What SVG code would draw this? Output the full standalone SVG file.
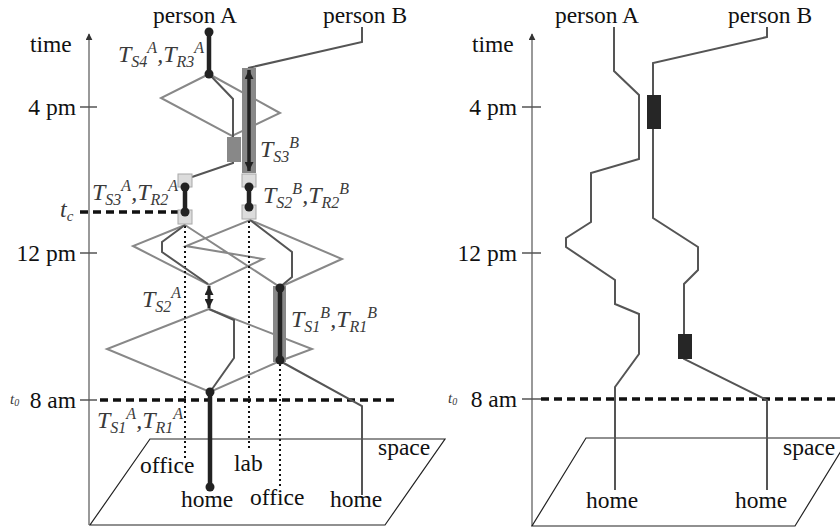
<svg xmlns="http://www.w3.org/2000/svg" width="840" height="529" viewBox="0 0 840 529" font-family="'Liberation Serif', Tinos, 'Nimbus Roman', 'Nimbus Roman No9 L', FreeSerif, 'Noto Serif', 'DejaVu Serif', 'Times New Roman', Times, serif">
<defs>
<style>
text, tspan{font-family:"Liberation Serif",Tinos,"Nimbus Roman","Nimbus Roman No9 L",FreeSerif,"Noto Serif","DejaVu Serif","Times New Roman",Times,serif;}
.lbl{font-size:23.5px;fill:#111;}
.T{font-size:24px;font-style:italic;fill:#3a3a3a;}
.s{font-size:16px;}
.ax{stroke:#777;stroke-width:1.5;fill:none;}
.tick{stroke:#555;stroke-width:1.5;}
.prism{stroke:#888;stroke-width:2;fill:none;stroke-linejoin:miter;}
.traj{stroke:#555;stroke-width:2;fill:none;}
.thick{stroke:#222;stroke-width:4.5;fill:none;}
.dash{stroke:#111;stroke-width:3.5;stroke-dasharray:8 5;fill:none;}
.dot{stroke:#111;stroke-width:2;stroke-dasharray:2 3;fill:none;}
.bar{fill:#888;}
.sq{fill:#dcdcdc;stroke:#a8a8a8;stroke-width:1;}
.pt{fill:#222;}
.plane{fill:none;stroke:#222;stroke-width:1.2;}
.blk{fill:#262626;}
</style>
<marker id="ah" viewBox="0 0 10 10" refX="10" refY="5" markerWidth="9" markerHeight="9" orient="auto-start-reverse" markerUnits="userSpaceOnUse">
<path d="M0,0 L10,5 L0,10 z" fill="#222"/>
</marker>
<marker id="axh" viewBox="0 0 10 10" refX="9" refY="5" markerWidth="7" markerHeight="7" orient="auto" markerUnits="userSpaceOnUse">
<path d="M0,0 L10,5 L0,10 z" fill="#333"/>
</marker>
</defs>

<!-- LEFT PANEL -->
<g id="left-axes">
<line class="ax" x1="89" y1="525" x2="89" y2="34" marker-end="url(#axh)"/>
<polygon class="plane" points="150,439 445,439 385,525 90,525"/>
<line class="tick" x1="80" y1="107" x2="97" y2="107"/>
<line class="tick" x1="80" y1="253" x2="97" y2="253"/>
<line class="tick" x1="80" y1="400" x2="97" y2="400"/>
<text class="lbl" x="30" y="52">time</text>
<text class="lbl" x="76" y="115" text-anchor="end">4 pm</text>
<text class="lbl" x="76" y="261" text-anchor="end">12 pm</text>
<text class="lbl" x="76" y="408" text-anchor="end">8 am</text>
<text class="T" x="10" y="404" style="font-size:15px">t<tspan style="font-size:10px" dy="2">0</tspan></text>
<text class="T" x="60" y="217">t<tspan class="s" dy="4" style="font-size:15px">c</tspan></text>
<text class="lbl" x="378" y="455">space</text>
<text class="lbl" x="140" y="473">office</text>
<text class="lbl" x="234" y="471">lab</text>
<text class="lbl" x="181" y="507">home</text>
<text class="lbl" x="250" y="505">office</text>
<text class="lbl" x="330" y="507">home</text>
<text class="lbl" x="195" y="23" text-anchor="middle">person A</text>
<text class="lbl" x="365" y="23" text-anchor="middle">person B</text>
</g>

<g id="left-prisms">
<polygon class="prism" points="209,74 161,98 232,136 280,113"/>
<polygon class="prism" points="185,225 133,246 209,285 263,259 186,246 250,220 342,259 280,287"/>
<polygon class="prism" points="209,309 107,349 210,392 280,361 312,349"/>
</g>

<g id="left-connectors">
<line class="dash" x1="100" y1="400" x2="398" y2="400"/>
<line class="dash" x1="80" y1="212" x2="183" y2="212"/>
<line class="dot" x1="185" y1="226" x2="185" y2="458"/>
<line class="dot" x1="249" y1="221" x2="249" y2="449"/>
<line class="dot" x1="280" y1="364" x2="280" y2="488"/>
<polyline class="traj" points="209,74 233,99 233,163 192,177"/>
<polyline class="traj" points="362,27 362,42 248,68"/>
<polyline class="traj" points="185,225 162,242 162,252 208,284"/>
<polyline class="traj" points="250,220 292,252 292,277 280,287"/>
<polyline class="traj" points="209,309 234,320 234,358 210,392"/>
<polyline class="traj" points="280,361 362,406 362,495"/>
</g>

<g id="left-activities">
<rect class="bar" x="227" y="137" width="14" height="25"/>
<rect class="bar" x="242" y="68" width="14" height="105"/>
<rect class="bar" x="273" y="286" width="13" height="76"/>
<rect class="sq" x="178" y="174" width="14" height="13"/>
<rect class="sq" x="178" y="210" width="14" height="14"/>
<rect class="sq" x="242" y="174" width="14" height="13"/>
<rect class="sq" x="242" y="205" width="14" height="14"/>
<line x1="249" y1="70" x2="249" y2="171" stroke="#222" stroke-width="3.5" marker-start="url(#ah)" marker-end="url(#ah)"/>
<line x1="209" y1="286" x2="209" y2="308" stroke="#222" stroke-width="3" marker-start="url(#ah)" marker-end="url(#ah)"/>
<line class="thick" x1="209" y1="32" x2="209" y2="74"/>
<line class="thick" x1="185" y1="187" x2="185" y2="212"/>
<line class="thick" x1="249" y1="187" x2="249" y2="207"/>
<line class="thick" x1="280" y1="288" x2="280" y2="360"/>
<line class="thick" x1="210" y1="392" x2="210" y2="487"/>
<circle class="pt" cx="209" cy="32" r="4.5"/>
<circle class="pt" cx="209" cy="74" r="4.5"/>
<circle class="pt" cx="185" cy="187" r="4.5"/>
<circle class="pt" cx="185" cy="212" r="4.5"/>
<circle class="pt" cx="249" cy="187" r="4.5"/>
<circle class="pt" cx="249" cy="207" r="4.5"/>
<circle class="pt" cx="280" cy="288" r="4.5"/>
<circle class="pt" cx="280" cy="360" r="4.5"/>
<circle class="pt" cx="210" cy="392" r="4.5"/>
<circle class="pt" cx="210" cy="487" r="4.5"/>
</g>

<g id="left-labels">
<text class="T" x="118" y="62">T<tspan class="s" dy="5">S4</tspan><tspan class="s" dy="-14">A</tspan><tspan dy="9">,T</tspan><tspan class="s" dy="5">R3</tspan><tspan class="s" dy="-14">A</tspan></text>
<text class="T" x="260" y="157">T<tspan class="s" dy="5">S3</tspan><tspan class="s" dy="-14">B</tspan></text>
<text class="T" x="92" y="200">T<tspan class="s" dy="5">S3</tspan><tspan class="s" dy="-14">A</tspan><tspan dy="9">,T</tspan><tspan class="s" dy="5">R2</tspan><tspan class="s" dy="-14">A</tspan></text>
<text class="T" x="263" y="203">T<tspan class="s" dy="5">S2</tspan><tspan class="s" dy="-14">B</tspan><tspan dy="9">,T</tspan><tspan class="s" dy="5">R2</tspan><tspan class="s" dy="-14">B</tspan></text>
<text class="T" x="142" y="307">T<tspan class="s" dy="5">S2</tspan><tspan class="s" dy="-14">A</tspan></text>
<text class="T" x="291" y="327">T<tspan class="s" dy="5">S1</tspan><tspan class="s" dy="-14">B</tspan><tspan dy="9">,T</tspan><tspan class="s" dy="5">R1</tspan><tspan class="s" dy="-14">B</tspan></text>
<text class="T" x="97" y="428">T<tspan class="s" dy="5">S1</tspan><tspan class="s" dy="-14">A</tspan><tspan dy="9">,T</tspan><tspan class="s" dy="5">R1</tspan><tspan class="s" dy="-14">A</tspan></text>
</g>

<!-- RIGHT PANEL -->
<g id="right-axes">
<line class="ax" x1="532" y1="526" x2="532" y2="34" marker-end="url(#axh)"/>
<polygon class="plane" points="586,438 849,438 795,526 532,526"/>
<line class="tick" x1="522" y1="107" x2="541" y2="107"/>
<line class="tick" x1="522" y1="253" x2="541" y2="253"/>
<line class="tick" x1="522" y1="399" x2="541" y2="399"/>
<text class="lbl" x="472" y="52">time</text>
<text class="lbl" x="517" y="115" text-anchor="end">4 pm</text>
<text class="lbl" x="517" y="261" text-anchor="end">12 pm</text>
<text class="lbl" x="517" y="407" text-anchor="end">8 am</text>
<text class="T" x="448" y="403" style="font-size:15px">t<tspan style="font-size:10px" dy="2">0</tspan></text>
<text class="lbl" x="783" y="455">space</text>
<text class="lbl" x="586" y="508">home</text>
<text class="lbl" x="735" y="508">home</text>
<text class="lbl" x="597" y="23" text-anchor="middle">person A</text>
<text class="lbl" x="770" y="23" text-anchor="middle">person B</text>
</g>

<g id="right-connectors">
<line class="dash" x1="541" y1="399" x2="840" y2="399"/>
<polyline class="traj" points="614,27 614,71 639,95 639,159 591,173 591,222 566,238 566,247 615,280 615,304 639,314 639,354 615,387 615,490"/>
<polyline class="traj" points="767,27 767,37 653,63 653,218 698,247 698,270 684,284 684,359 767,400 767,490"/>
</g>

<g id="right-activities">
<rect class="blk" x="647" y="95" width="14" height="34"/>
<rect class="blk" x="678" y="334" width="14" height="25"/>
</g>
</svg>
